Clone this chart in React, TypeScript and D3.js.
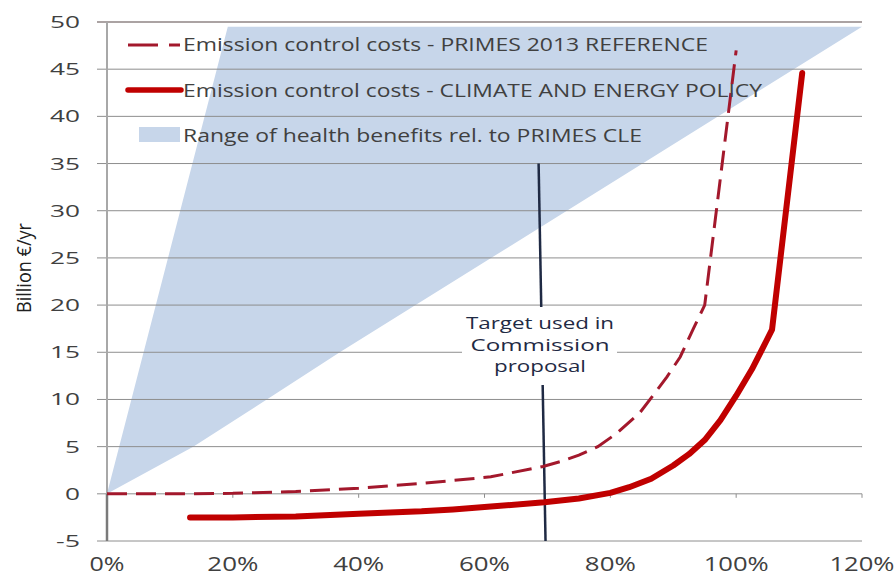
import React from "react";
import * as d3 from "d3";

// ---- data ----
const xTicks = [0, 20, 40, 60, 80, 100, 120];
const yTicks = [-5, 0, 5, 10, 15, 20, 25, 30, 35, 40, 45, 50];

// Emission control costs - PRIMES 2013 REFERENCE (dashed)
const refX = [0, 10, 20, 30, 40, 50, 61, 69.3, 72, 75, 78, 81, 84.7, 87, 89, 91.1, 93.2, 95, 100];
const refY = [0, 0, 0.05, 0.25, 0.6, 1.1, 1.8, 2.9, 3.4, 4.1, 5.0, 6.4, 8.6, 10.6, 12.4, 14.5, 17.5, 20, 47];

// Emission control costs - CLIMATE AND ENERGY POLICY (solid)
const polX = [13.2, 20, 30, 40, 50, 55, 61, 69.5, 75, 80, 83, 86.5, 90, 92.5, 95, 97.5, 100, 102.5, 104.5, 105.7, 110.5];
const polY = [-2.5, -2.5, -2.4, -2.1, -1.85, -1.65, -1.35, -0.9, -0.5, 0.1, 0.7, 1.6, 3.0, 4.2, 5.7, 7.8, 10.4, 13.2, 15.8, 17.4, 44.6];

// Range of health benefits rel. to PRIMES CLE (polygon vertices)
const benX = [0, 19.2, 120, 37, 25.4, 13.7];
const benY = [0, 49.5, 49.5, 15, 10, 5];

// Target used in Commission proposal
const targetX = [68.6, 69.7];
const targetY = [35, -5];
const targetText = ["Target used in", "Commission", "proposal"];

const legendLabels = [
  "Emission control costs - PRIMES 2013 REFERENCE",
  "Emission control costs - CLIMATE AND ENERGY POLICY",
  "Range of health benefits rel. to PRIMES CLE",
];
const yTitle = "Billion €/yr";

// ---- layout ----
const W = 896, H = 577;
const FONT = "'Open Sans', 'DejaVu Sans', sans-serif";
const TXT = "#404040";
const REF_COLOR = "#A3182C";
const POL_COLOR = "#C00000";
const BLUE = "#C7D6EA";
const GRID = "#8E8E8E";

const x = d3.scaleLinear().domain([0, 120]).range([107, 862]);
const y = d3.scaleLinear().domain([-5, 50]).range([541, 22]);

const legendWidths = [525, 579, 459];
const targetWidths = [148, 139, 92];

function xLabelWidth(t: number) {
  const s = `${t}%`;
  if (s.length === 2) return 35;
  if (s.length === 3) return 51;
  return 65;
}
function yLabelWidth(t: number) {
  const s = `${t}`;
  if (s.length === 1) return 15;
  if (t < 0) return 24;
  return 30;
}

export default function App() {
  const line = d3
    .line<[number, number]>()
    .x((d) => x(d[0]))
    .y((d) => y(d[1]))
    .curve(d3.curveLinear);

  const refPts = refX.map((v, i) => [v, refY[i]] as [number, number]);
  const polPts = polX.map((v, i) => [v, polY[i]] as [number, number]);
  const benPts = benX.map((v, i) => [v, benY[i]] as [number, number]);
  const benPath = line(benPts) + "Z";

  return (
    <svg
      width={W}
      height={H}
      style={{ position: "absolute", left: 0, top: 0, background: "#fff" }}
    >
      <rect x={0} y={0} width={W} height={H} fill="#fff" />
      {/* benefits area */}
      <path d={benPath} fill={BLUE} stroke="none" />

      {/* gridlines */}
      {yTicks.map((t) => (
        <line
          key={t}
          x1={97}
          x2={862}
          y1={y(t)}
          y2={y(t)}
          stroke={t === 50 ? "#8F8585" : GRID}
          strokeWidth={t === 50 ? 1.5 : 1}
        />
      ))}
      {/* x-axis minor ticks at 0 */}
      {xTicks.map((t) => (
        <line key={t} x1={x(t)} x2={x(t)} y1={y(0)} y2={y(0) + 4} stroke={GRID} strokeWidth={1} />
      ))}
      {/* y axis */}
      <line x1={x(0)} x2={x(0)} y1={y(50)} y2={y(0)} stroke="#A8A8A8" strokeWidth={2} />
      <line x1={x(0)} x2={x(0)} y1={y(0)} y2={y(-5)} stroke="#7A7A7A" strokeWidth={2.5} />

      {/* y tick labels */}
      {yTicks.map((t) => (
        <text
          key={t}
          x={80 - yLabelWidth(t)}
          y={y(t) + 6}
          fontFamily={FONT}
          fontSize={17}
          fill={TXT}
          textLength={yLabelWidth(t)}
          lengthAdjust="spacingAndGlyphs"
        >
          {t}
        </text>
      ))}
      {/* x tick labels */}
      {xTicks.map((t) => (
        <text
          key={t}
          x={x(t) - xLabelWidth(t) / 2}
          y={571}
          fontFamily={FONT}
          fontSize={20}
          fill={TXT}
          textLength={xLabelWidth(t)}
          lengthAdjust="spacingAndGlyphs"
        >
          {`${t}%`}
        </text>
      ))}
      {/* y title */}
      <text
        transform="translate(31,268) scale(1.3,1) rotate(-90)"
        textAnchor="middle"
        fontFamily={FONT}
        fontSize={15}
        fill="#202020"
        textLength={90}
        lengthAdjust="spacingAndGlyphs"
      >
        {yTitle}
      </text>

      {/* target line */}
      <line
        x1={x(targetX[0])}
        y1={y(targetY[0])}
        x2={x(targetX[1])}
        y2={y(targetY[1])}
        stroke="#1F2A44"
        strokeWidth={2.5}
      />
      <rect x={462} y={307} width={155} height={78} fill="#fff" />
      {targetText.map((s, i) => (
        <text
          key={s}
          x={540 - targetWidths[i] / 2}
          y={329 + i * 21.5}
          fontFamily={FONT}
          fontSize={16}
          fill="#1F2A44"
          textLength={targetWidths[i]}
          lengthAdjust="spacingAndGlyphs"
        >
          {s}
        </text>
      ))}

      {/* curves */}
      <path
        d={line(refPts) || ""}
        fill="none"
        stroke={REF_COLOR}
        strokeWidth={3}
        strokeDasharray="20,9"
      />
      <path
        d={line(polPts) || ""}
        fill="none"
        stroke={POL_COLOR}
        strokeWidth={6}
        strokeLinecap="round"
        strokeLinejoin="round"
      />

      {/* legend */}
      <line x1={128} x2={158} y1={45} y2={45} stroke={REF_COLOR} strokeWidth={3} />
      <line x1={169} x2={180} y1={45} y2={45} stroke={REF_COLOR} strokeWidth={3} />
      <line x1={128} x2={181} y1={90} y2={90} stroke={POL_COLOR} strokeWidth={5.5} strokeLinecap="round" />
      <rect x={139} y={127} width={41} height={15} fill={BLUE} />
      {legendLabels.map((s, i) => (
        <text
          key={s}
          x={183}
          y={51 + i * 45.5}
          fontFamily={FONT}
          fontSize={18}
          fill={TXT}
          textLength={legendWidths[i]}
          lengthAdjust="spacingAndGlyphs"
        >
          {s}
        </text>
      ))}
    </svg>
  );
}
